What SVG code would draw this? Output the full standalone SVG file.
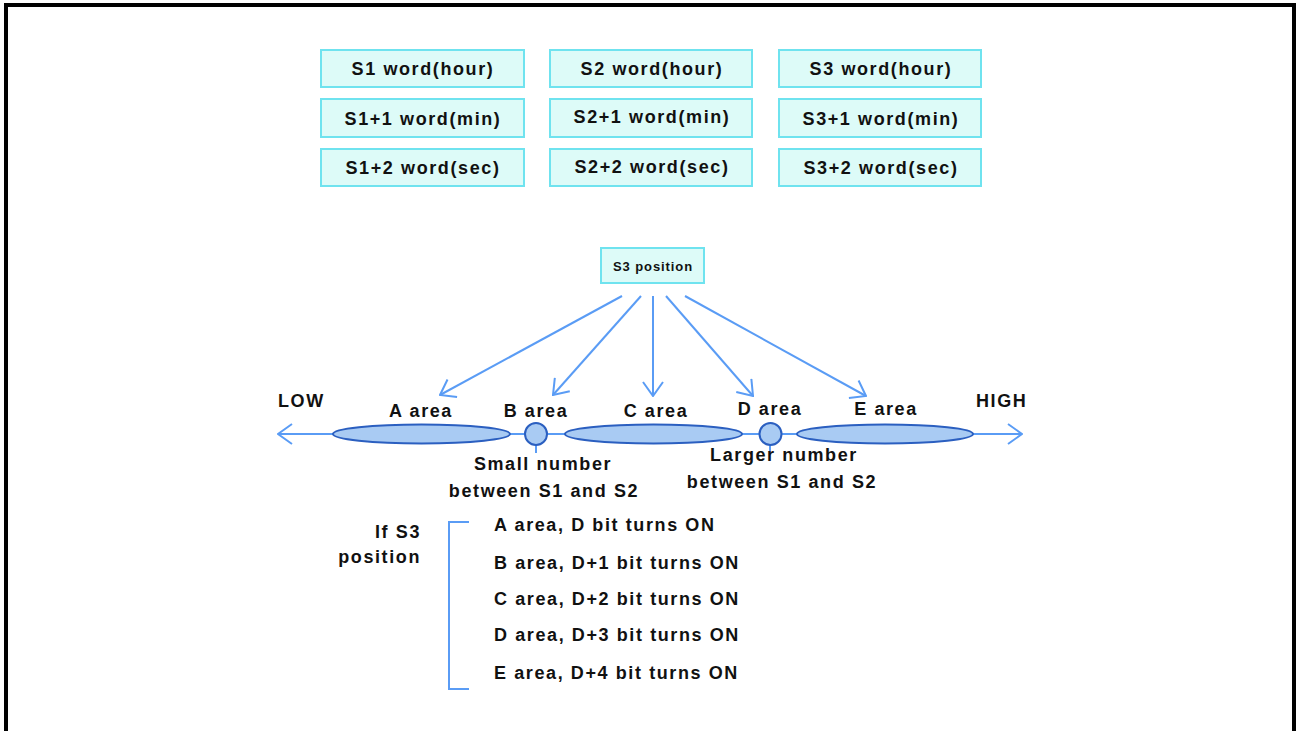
<svg xmlns="http://www.w3.org/2000/svg" width="1298" height="731" viewBox="0 0 1298 731">
<defs>
<marker id="ah" viewBox="0 0 16 22" refX="15" refY="11" markerWidth="16" markerHeight="22" markerUnits="userSpaceOnUse" orient="auto">
<path d="M1,1 L15,11 L1,21" fill="none" stroke="#5a9cf5" stroke-width="2"/>
</marker>
<style>
.box{fill:#ddfbf8;stroke:#6fe3ef;stroke-width:2}
.t{font-family:"Liberation Sans",Arial,sans-serif;font-weight:bold;font-size:18px;fill:#111;letter-spacing:1.6px}
.tc{text-anchor:middle}
.ln{stroke:#5a9cf5;stroke-width:2;fill:none}
.el{fill:#a9cbf3;stroke:#2b5fc0;stroke-width:2}
</style>
</defs>
<rect width="1298" height="731" fill="#fff"/>
<path d="M6,740 L6,5 L1294,5 L1294,740" fill="none" stroke="#000" stroke-width="4"/>

<g id="s1-hour"><rect class="box" x="321" y="50" width="203" height="37"/><text class="t tc" x="423" y="75">S1 word(hour)</text></g>
<g id="s2-hour"><rect class="box" x="550" y="50" width="202" height="37"/><text class="t tc" x="652" y="75">S2 word(hour)</text></g>
<g id="s3-hour"><rect class="box" x="779" y="50" width="202" height="37"/><text class="t tc" x="881" y="75">S3 word(hour)</text></g>
<g id="s1-min"><rect class="box" x="321" y="99" width="203" height="38"/><text class="t tc" x="423" y="125">S1+1 word(min)</text></g>
<g id="s2-min"><rect class="box" x="550" y="99" width="202" height="38"/><text class="t tc" x="652" y="123">S2+1 word(min)</text></g>
<g id="s3-min"><rect class="box" x="779" y="99" width="202" height="38"/><text class="t tc" x="881" y="125">S3+1 word(min)</text></g>
<g id="s1-sec"><rect class="box" x="321" y="149" width="203" height="37"/><text class="t tc" x="423" y="174">S1+2 word(sec)</text></g>
<g id="s2-sec"><rect class="box" x="550" y="149" width="202" height="37"/><text class="t tc" x="652" y="173">S2+2 word(sec)</text></g>
<g id="s3-sec"><rect class="box" x="779" y="149" width="202" height="37"/><text class="t tc" x="881" y="174">S3+2 word(sec)</text></g>

<g id="s3-position"><rect class="box" x="601" y="248" width="103" height="35"/><text class="t tc" x="653" y="271" style="font-size:13px;letter-spacing:0.9px">S3 position</text></g>

<g id="connectors">
<line class="ln" x1="622" y1="296" x2="440" y2="395" marker-end="url(#ah)"/>
<line class="ln" x1="641" y1="296" x2="553" y2="395" marker-end="url(#ah)"/>
<line class="ln" x1="653" y1="296" x2="653" y2="396" marker-end="url(#ah)"/>
<line class="ln" x1="666" y1="296" x2="753" y2="396" marker-end="url(#ah)"/>
<line class="ln" x1="685" y1="296" x2="866" y2="396" marker-end="url(#ah)"/>
<line class="ln" x1="333" y1="434" x2="278" y2="434" marker-end="url(#ah)"/>
<line class="ln" x1="973" y1="434" x2="1022" y2="434" marker-end="url(#ah)"/>
<line class="ln" x1="510" y1="434" x2="525" y2="434"/>
<line class="ln" x1="547" y1="434" x2="565" y2="434"/>
<line class="ln" x1="742" y1="434" x2="760" y2="434"/>
<line class="ln" x1="781" y1="434" x2="797" y2="434"/>
<line class="ln" x1="536" y1="445" x2="536" y2="453"/>
<line class="ln" x1="770" y1="445" x2="770" y2="452"/>
</g>

<g id="axis">
<ellipse id="a-area" class="el" cx="421.5" cy="434" rx="88.5" ry="9.5"/>
<circle id="b-area" class="el" cx="536" cy="434" r="11"/>
<ellipse id="c-area" class="el" cx="653.5" cy="434" rx="88.5" ry="9.5"/>
<circle id="d-area" class="el" cx="770.5" cy="434" r="11"/>
<ellipse id="e-area" class="el" cx="885" cy="434" rx="88" ry="9.5"/>
</g>

<g id="labels">
<text class="t" x="278" y="407">LOW</text>
<text class="t" x="976" y="407">HIGH</text>
<text class="t tc" x="421" y="417">A area</text>
<text class="t tc" x="536" y="417">B area</text>
<text class="t tc" x="656" y="417">C area</text>
<text class="t tc" x="770" y="415">D area</text>
<text class="t tc" x="886" y="415">E area</text>
<text class="t tc" x="543" y="470">Small number</text>
<text class="t tc" x="544" y="497">between S1 and S2</text>
<text class="t tc" x="784" y="461">Larger number</text>
<text class="t tc" x="782" y="488">between S1 and S2</text>
</g>

<g id="legend">
<text class="t" x="421" y="538" text-anchor="end">If S3</text>
<text class="t" x="421" y="563" text-anchor="end">position</text>
<path class="ln" d="M469,522 L449,522 L449,689 L469,689"/>
<text class="t" x="494" y="531">A area, D bit turns ON</text>
<text class="t" x="494" y="569">B area, D+1 bit turns ON</text>
<text class="t" x="494" y="605">C area, D+2 bit turns ON</text>
<text class="t" x="494" y="641">D area, D+3 bit turns ON</text>
<text class="t" x="494" y="679">E area, D+4 bit turns ON</text>
</g>
</svg>
